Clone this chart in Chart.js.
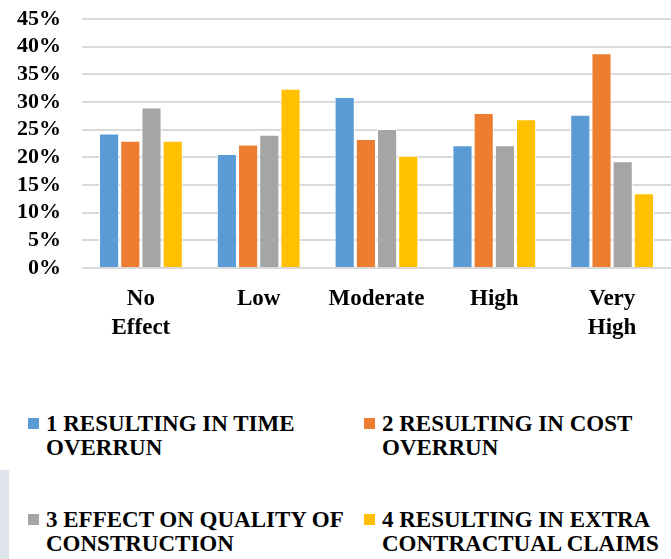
<!DOCTYPE html>
<html>
<head>
<meta charset="utf-8">
<script src="https://cdn.jsdelivr.net/npm/chart.js@4/dist/chart.umd.min.js"></script>
<style>
  html, body { margin: 0; padding: 0; background: #fff; }
  #wrap { position: relative; width: 671px; height: 559px; overflow: hidden; }
  #mark { position: absolute; left: 0; top: 470px; width: 9px; height: 89px; background: #dfe4ec; }
  canvas { position: absolute; left: 0; top: 0; }
  .leg { position: absolute; font-family: "Liberation Serif", "Times New Roman", serif; font-weight: bold;
         font-size: 23px; line-height: 24px; color: #000; white-space: nowrap; }
  .leg .sw { position: absolute; left: -18px; top: 6px; width: 11px; height: 11px; }
</style>
</head>
<body>
<div id="wrap">
  <div id="mark"></div>
  <canvas id="c" width="671" height="350"></canvas>
  <div id="legend"></div>
</div>
<script>
const categories = [["No", "Effect"], "Low", "Moderate", ["High"], ["Very", "High"]];
const seriesNames = [
  ["1 RESULTING IN TIME", "OVERRUN"],
  ["2 RESULTING IN COST", "OVERRUN"],
  ["3 EFFECT ON QUALITY OF", "CONSTRUCTION"],
  ["4 RESULTING IN EXTRA", "CONTRACTUAL CLAIMS"]
];
const timeOverrun   = [24.3, 20.6, 30.9, 22.2, 27.7];
const costOverrun   = [23.0, 22.3, 23.3, 28.0, 38.8];
const qualityEffect = [29.0, 24.1, 25.1, 22.2, 19.3];
const extraClaims   = [23.0, 32.4, 20.3, 26.9, 13.5];
const yTicks = [0, 5, 10, 15, 20, 25, 30, 35, 40, 45];
const colors = ["#5b9bd5", "#ed7d31", "#a5a5a5", "#ffc000"];
const seriesValues = [timeOverrun, costOverrun, qualityEffect, extraClaims];

const serif = "'Liberation Serif', 'Times New Roman', serif";

new Chart(document.getElementById("c"), {
  type: "bar",
  data: {
    labels: categories,
    datasets: seriesValues.map((vals, i) => ({
      label: seriesNames[i].join(" "),
      data: vals,
      backgroundColor: colors[i],
      borderColor: "#ffffff",
      borderWidth: 1,
      categoryPercentage: 0.72,
      barPercentage: 0.95
    }))
  },
  options: {
    responsive: false,
    animation: false,
    layout: { padding: { top: 19, right: 0, left: 0, bottom: 0 } },
    plugins: { legend: { display: false }, tooltip: { enabled: false } },
    scales: {
      x: {
        grid: { display: false },
        border: { display: false },
        ticks: { color: "#000", font: { family: serif, weight: "bold", size: 23, lineHeight: 1.26 },
                 padding: 9, maxRotation: 0, autoSkip: false },
        afterFit: s => { s.height = 82; s.paddingLeft = 0; s.paddingRight = 0; }
      },
      y: {
        min: 0, max: 45,
        afterBuildTicks: s => { s.ticks = yTicks.map(v => ({ value: v })); },
        grid: { color: "#d9d9d9", lineWidth: 2, drawTicks: false },
        border: { display: false },
        ticks: { color: "#000", font: { family: serif, weight: "bold", size: 22 }, padding: 21,
                 autoSkip: false, callback: v => v + "%" },
        afterFit: s => { s.width = 82; s.paddingTop = 0; s.paddingBottom = 0; }
      }
    }
  }
});

const legendPos = [[46, 412], [382, 412], [46, 508], [382, 508]];
const lg = document.getElementById("legend");
seriesNames.forEach((lines, i) => {
  const d = document.createElement("div");
  d.className = "leg";
  d.style.left = legendPos[i][0] + "px";
  d.style.top = legendPos[i][1] + "px";
  d.innerHTML = '<span class="sw" style="background:' + colors[i] + '"></span>' + lines.join("<br>");
  lg.appendChild(d);
});
</script>
</body>
</html>
